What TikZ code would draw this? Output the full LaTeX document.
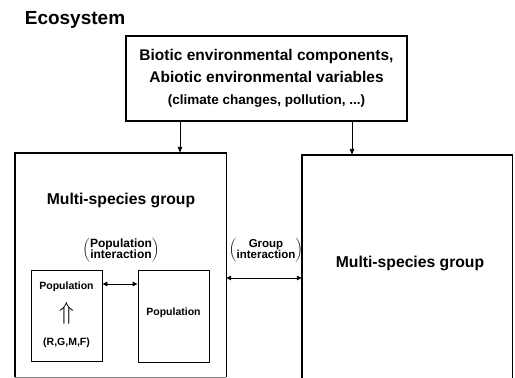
\documentclass[tikz,border=0pt]{standalone}
\usepackage{fontspec}
\setmainfont{Liberation Sans}
\usetikzlibrary{arrows.meta}
\begin{document}
\begin{tikzpicture}[x=1pt,y=-1pt,
  bigbox/.style={inner sep=0pt},
  envbox/.style={draw, line width=1.2pt, inner sep=0pt, align=center,
    font=\bfseries\fontsize{15.5}{22}\selectfont},
  popbox/.style={draw, line width=0.9pt, inner sep=0pt},
  edge/.style={line width=1.4pt},
  txt/.style={inner sep=0pt, align=center},
  big/.style={txt, font=\bfseries\fontsize{15.7}{18}\selectfont},
  small/.style={txt, font=\bfseries\fontsize{10.5}{12}\selectfont},
  inter/.style={txt, font=\bfseries\fontsize{12}{13}\selectfont},
  arr/.style={-{Triangle[length=6pt,width=4.5pt]}, line width=0.9pt},
  darr/.style={{Triangle[length=5pt,width=4.5pt]}-{Triangle[length=5pt,width=4.5pt]}, line width=0.9pt}]
\useasboundingbox (0,0) rectangle (515,378);

\node[txt, font=\bfseries\fontsize{19}{20}\selectfont] (eco) at (75,20) {Ecosystem};

\node[envbox, minimum width=281pt, minimum height=85pt] (env) at (266.5,78.5)
  {Biotic environmental components,\\ Abiotic environmental variables\\
   {\fontsize{13.5}{22}\selectfont (climate changes, pollution, ...)}};

% big boxes
\node[bigbox, minimum width=211pt, minimum height=224pt] (L) at (120.5,265) {};
\node[bigbox, minimum width=210pt, minimum height=223pt] (R) at (407,266.5) {};
\draw[edge] (L.south west) -- (L.north west) -- (L.north east) -- (L.south east);
\draw[gray, line width=0.5pt] (L.south west) -- (L.south east);
\draw[edge] (R.south west) -- (R.north west) -- (R.north east) -- (R.south east);

% arrows from environment
\coordinate (a1) at (180,0);
\coordinate (a2) at (352,0);
\draw[arr] (env.south -| a1) -- (L.north -| a1);
\draw[arr] (env.south -| a2) -- (R.north -| a2);

\node[big] (lt) at (121,200) {Multi-species group};
\node[big] (rt) at (410,263) {Multi-species group};

% populations
\node[popbox, minimum width=71pt, minimum height=91pt] (lp) at (66.5,315.5) {};
\node[popbox, minimum width=71pt, minimum height=92pt] (rp) at (173.5,316) {};
\node[small] (lpt) at (66.5,287) {Population};
\node[txt, font=\fontsize{28}{28}\selectfont] (up) at (66.5,313) {$\Uparrow$};
\node[small] (rgmf) at (66.5,343) {(R,G,M,F)};
\node[small] (rpt) at (173.5,313) {Population};

\node[inter] (pint) at (121,250)
  {$\left(\begin{tabular}{@{}c@{}}Population\\[-2pt]interaction\end{tabular}\right)$};
\node[inter, font=\bfseries\fontsize{11.5}{13}\selectfont] (gint) at (266,250)
  {$\left(\begin{tabular}{@{}c@{}}Group\\[-2pt]interaction\end{tabular}\right)$};

\coordinate (pa) at (0,284);
\coordinate (ga) at (0,278);
\draw[darr] (lp.east |- pa) -- (rp.west |- pa);
\draw[darr] (L.east |- ga) -- (R.west |- ga);
\end{tikzpicture}
\end{document}
